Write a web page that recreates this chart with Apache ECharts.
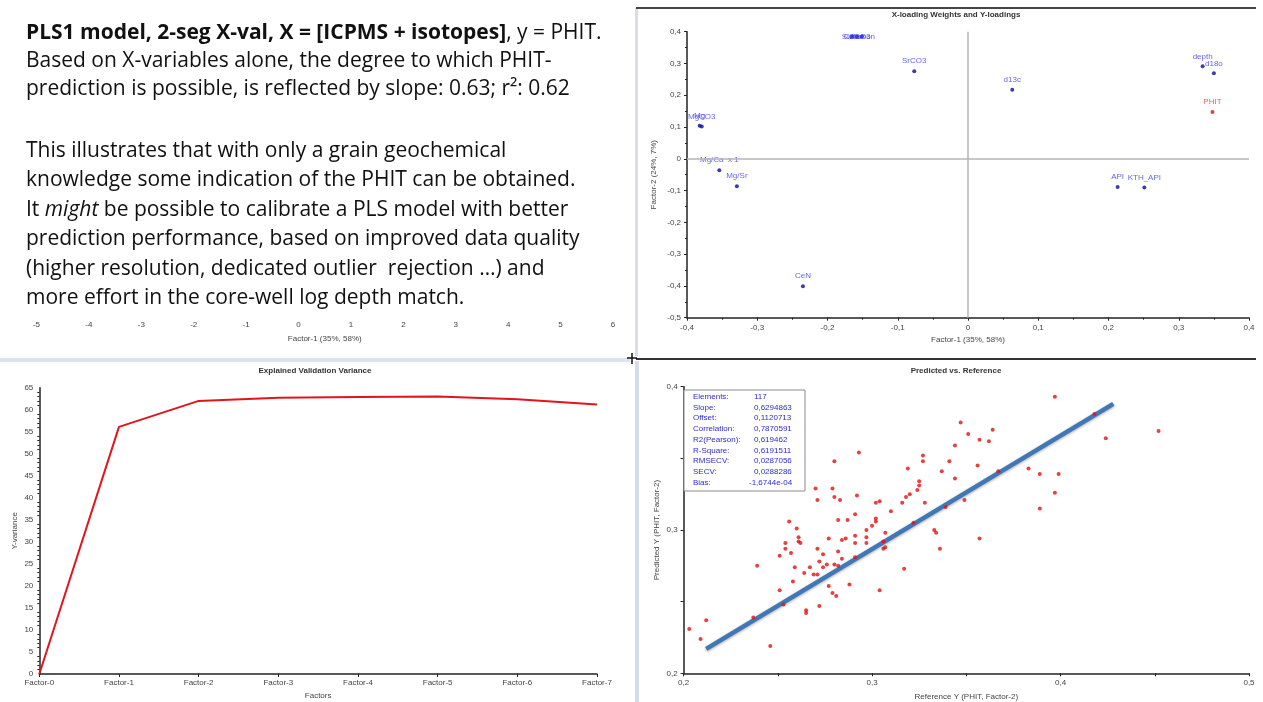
<!DOCTYPE html>
<html>
<head>
<meta charset="utf-8">
<script src="https://cdn.jsdelivr.net/npm/echarts/dist/echarts.min.js"></script>
<style>
html, body { margin: 0; padding: 0; background: #fff; }
#main { width: 1263px; height: 702px; }
</style>
</head>
<body>
<div id="main"></div>
<script>
// X-loading weights / Y-loadings
var loadNames = ["Mg", "MgCO3", "Mg/Ca  x 1", "Mg/Sr", "CeN", "Sulfur", "CaCO3", "Carbon", "SrCO3", "d13c", "depth", "d18o", "API", "KTH_API"];
var loadX = [-0.382, -0.379, -0.354, -0.329, -0.235, -0.165, -0.158, -0.151, -0.0765, 0.063, 0.334, 0.350, 0.213, 0.251];
var loadY = [0.104, 0.102, -0.036, -0.086, -0.401, 0.385, 0.385, 0.385, 0.2755, 0.217, 0.291, 0.269, -0.089, -0.090];
var yLoadNames = ["PHIT"];
var yLoadX = [0.348];
var yLoadY = [0.147];

// explained validation variance
var factors = ["Factor-0", "Factor-1", "Factor-2", "Factor-3", "Factor-4", "Factor-5", "Factor-6", "Factor-7"];
var yVariance = [0, 56.1, 62.0, 62.7, 62.9, 63.0, 62.4, 61.2];

// predicted vs reference
var refY = [0.397, 0.418, 0.347, 0.364, 0.351, 0.357, 0.362, 0.424, 0.452, 0.344,
  0.293, 0.327, 0.327, 0.280, 0.341, 0.356, 0.319, 0.337, 0.367, 0.383,
  0.389, 0.399, 0.344, 0.325, 0.325, 0.324, 0.320, 0.318, 0.316, 0.328,
  0.349, 0.339, 0.270, 0.279, 0.271, 0.280, 0.283, 0.292, 0.302, 0.304,
  0.291, 0.310, 0.302, 0.397, 0.389, 0.302, 0.300, 0.297, 0.297, 0.297,
  0.291, 0.291, 0.291, 0.287, 0.286, 0.284, 0.284, 0.288, 0.282, 0.282,
  0.280, 0.282, 0.281, 0.279, 0.277, 0.277, 0.276, 0.274, 0.274, 0.271,
  0.272, 0.271, 0.269, 0.267, 0.264, 0.259, 0.258, 0.261, 0.261, 0.262,
  0.260, 0.257, 0.256, 0.254, 0.254, 0.251, 0.251, 0.253, 0.246, 0.239,
  0.237, 0.265, 0.265, 0.272, 0.212, 0.203, 0.209, 0.304, 0.317, 0.333,
  0.334, 0.336, 0.322, 0.307, 0.306, 0.307, 0.306, 0.357];
var predY = [0.393, 0.381, 0.375, 0.370, 0.367, 0.363, 0.362, 0.364, 0.369, 0.359,
  0.354, 0.352, 0.348, 0.348, 0.348, 0.345, 0.343, 0.341, 0.341, 0.343,
  0.339, 0.339, 0.336, 0.334, 0.331, 0.328, 0.325, 0.323, 0.319, 0.319,
  0.321, 0.316, 0.329, 0.329, 0.321, 0.323, 0.321, 0.324, 0.319, 0.320,
  0.311, 0.313, 0.308, 0.326, 0.315, 0.306, 0.303, 0.300, 0.295, 0.291,
  0.296, 0.291, 0.281, 0.307, 0.294, 0.293, 0.280, 0.262, 0.307, 0.285,
  0.276, 0.275, 0.254, 0.256, 0.294, 0.261, 0.276, 0.274, 0.283, 0.287,
  0.278, 0.269, 0.269, 0.274, 0.270, 0.274, 0.264, 0.295, 0.292, 0.291,
  0.301, 0.284, 0.306, 0.291, 0.287, 0.282, 0.258, 0.248, 0.219, 0.275,
  0.239, 0.244, 0.242, 0.247, 0.237, 0.231, 0.224, 0.258, 0.273, 0.300,
  0.298, 0.287, 0.305, 0.298, 0.292, 0.288, 0.287, 0.294];
var fitX = [0.212, 0.428];
var fitY = [0.217, 0.388];

var statLabels = ["Elements:", "Slope:", "Offset:", "Correlation:", "R2(Pearson):", "R-Square:", "RMSECV:", "SECV:", "Bias:"];
var statValues = ["117", "0,6294863", "0,1120713", "0,7870591", "0,619462", "0,6191511", "0,0287056", "0,0288286", "-1,6744e-04"];

// leftover axis under the text box
var oldAxisTicks = [-5, 6];

var chart = echarts.init(document.getElementById("main"));

var FONT = "Liberation Sans";
var TEXTFONT = "Open Sans";
var TEXTSIZE = 21;

function comma(v) {
  if (Math.abs(v) < 1e-9) return "0";
  return v.toFixed(1).replace(".", ",");
}

var axisLine = { show: true, onZero: false, lineStyle: { color: "#222", width: 1.5 } };
var axisLabel = { color: "#444", fontSize: 8, fontFamily: FONT };
var nameStyle = { color: "#444", fontSize: 8, fontFamily: FONT };

// loadings scatter data
var loadData = loadNames.map(function (n, i) {
  var item = { name: n, value: [loadX[i], loadY[i]] };
  if (loadY[i] > 0.38) item.label = { position: "inside", offset: [0, 0] };
  return item;
});
var yLoadData = yLoadNames.map(function (n, i) {
  return { name: n, value: [yLoadX[i], yLoadY[i]] };
});
var predData = refY.map(function (r, i) { return [r, predY[i]]; });
var fitData = fitX.map(function (x, i) { return [x, fitY[i]]; });

// text block
var textLines = [
  { y: 33, t: "{b|PLS1 model, 2-seg X-val, X = [ICPMS + isotopes]}, y = PHIT." },
  { y: 61, t: "Based on X-variables alone, the degree to which PHIT-" },
  { y: 89, t: "prediction is possible, is reflected by slope: 0.63; r\u00b2: 0.62" },
  { y: 151, t: "This illustrates that with only a grain geochemical" },
  { y: 180, t: "knowledge some indication of the PHIT can be obtained." },
  { y: 210, t: "It {i|might} be possible to calibrate a PLS model with better" },
  { y: 239, t: "prediction performance, based on improved data quality" },
  { y: 269, t: "(higher resolution, dedicated outlier  rejection \u2026) and" },
  { y: 298, t: "more effort in the core-well log depth match." }
];
var graphics = textLines.map(function (l) {
  return {
    type: "text", x: 26, y: l.y,
    style: {
      text: l.t, fill: "#111", font: TEXTSIZE + "px " + TEXTFONT, textVerticalAlign: "middle",
      rich: {
        b: { fontWeight: "bold", fontSize: TEXTSIZE, fontFamily: TEXTFONT, fill: "#111" },
        i: { fontStyle: "italic", fontSize: TEXTSIZE, fontFamily: TEXTFONT, fill: "#111" }
      }
    }
  };
});

// panel frames
graphics.push(
  { type: "rect", shape: { x: 0, y: 358, width: 630, height: 4 }, style: { fill: "#dbe4ef" } },
  { type: "rect", shape: { x: 635, y: 8, width: 3, height: 348 }, style: { fill: "#d5dde8" } },
  { type: "rect", shape: { x: 635, y: 361, width: 4, height: 341 }, style: { fill: "#d5dde8" } },
  { type: "line", shape: { x1: 636, y1: 8, x2: 1256, y2: 8 }, style: { stroke: "#444", lineWidth: 2 } },
  { type: "line", shape: { x1: 636, y1: 359, x2: 1256, y2: 359 }, style: { stroke: "#333", lineWidth: 2 } },
  { type: "line", shape: { x1: 627, y1: 358, x2: 637, y2: 358 }, style: { stroke: "#111", lineWidth: 1.5 } },
  { type: "line", shape: { x1: 632, y1: 353, x2: 632, y2: 364 }, style: { stroke: "#111", lineWidth: 1.5 } }
);

// chart titles
[["X-loading Weights and Y-loadings", 956, 15], ["Explained Validation Variance", 315, 371], ["Predicted vs. Reference", 956, 371]].forEach(function (t) {
  graphics.push({
    type: "text", x: t[1], y: t[2],
    style: { text: t[0], fill: "#333", font: "bold 8px " + FONT, textAlign: "center", textVerticalAlign: "middle" }
  });
});

// stats box
graphics.push({ type: "rect", shape: { x: 684, y: 390, width: 121, height: 101 }, style: { fill: "#fff", stroke: "#8a8a8a", lineWidth: 1 }, z: 10 });
statLabels.forEach(function (s, i) {
  var y = 396.7 + i * 10.75;
  graphics.push({ type: "text", x: 693, y: y, z: 11, style: { text: s, fill: "#2b2bd0", font: "8px " + FONT, textVerticalAlign: "middle" } });
  graphics.push({ type: "text", x: i === 8 ? 749 : 754, y: y, z: 11, style: { text: statValues[i], fill: "#2b2bd0", font: "8px " + FONT, textVerticalAlign: "middle" } });
});

var option = {
  backgroundColor: "#fff",
  animation: false,
  graphic: graphics,
  grid: [
    { left: 687, right: 14, top: 31.7, height: 286 },
    { left: 39.3, width: 557.7, top: 387.7, height: 286.3 },
    { left: 683.6, width: 565.4, top: 386.7, height: 286.6 },
    { left: 36.5, width: 576.5, top: 312, height: 1 }
  ],
  xAxis: [
    {
      gridIndex: 0, type: "value", min: -0.4, max: 0.4, interval: 0.1,
      name: "Factor-1 (35%, 58%)", nameLocation: "middle", nameGap: 18, nameTextStyle: nameStyle,
      axisLine: axisLine, axisTick: { length: 3, lineStyle: { color: "#222" } },
      minorTick: { show: true, splitNumber: 2, length: 2, lineStyle: { color: "#222" } },
      splitLine: { show: false }, axisLabel: Object.assign({ formatter: comma, margin: 6 }, axisLabel)
    },
    {
      gridIndex: 1, type: "category", data: factors, boundaryGap: false,
      name: "Factors", nameLocation: "middle", nameGap: 18, nameTextStyle: nameStyle,
      axisLine: axisLine, axisTick: { length: 3, lineStyle: { color: "#222" } },
      splitLine: { show: false }, axisLabel: Object.assign({ margin: 5 }, axisLabel)
    },
    {
      gridIndex: 2, type: "value", min: 0.2, max: 0.5, interval: 0.1,
      name: "Reference Y (PHIT, Factor-2)", nameLocation: "middle", nameGap: 19, nameTextStyle: nameStyle,
      axisLine: axisLine, axisTick: { length: 3, lineStyle: { color: "#222" } },
      minorTick: { show: true, splitNumber: 2, length: 3, lineStyle: { color: "#222" } },
      splitLine: { show: false }, axisLabel: Object.assign({ formatter: comma, margin: 5 }, axisLabel)
    },
    {
      gridIndex: 3, type: "value", min: oldAxisTicks[0], max: oldAxisTicks[1], interval: 1,
      name: "Factor-1 (35%, 58%)", nameLocation: "middle", nameGap: 22, nameTextStyle: nameStyle,
      axisLine: { show: false }, axisTick: { show: false }, splitLine: { show: false },
      axisLabel: Object.assign({ margin: 8 }, axisLabel)
    }
  ],
  yAxis: [
    {
      gridIndex: 0, type: "value", min: -0.5, max: 0.4, interval: 0.1,
      name: "Factor-2 (24%, 7%)", nameLocation: "middle", nameGap: 29, nameTextStyle: nameStyle,
      axisLine: axisLine, axisTick: { length: 3, lineStyle: { color: "#222" } },
      minorTick: { show: true, splitNumber: 2, length: 2, lineStyle: { color: "#222" } },
      splitLine: { show: false }, axisLabel: Object.assign({ formatter: comma, margin: 6 }, axisLabel)
    },
    {
      gridIndex: 1, type: "value", min: 0, max: 65, interval: 5,
      name: "Y-variance", nameLocation: "middle", nameGap: 21, nameTextStyle: nameStyle,
      axisLine: axisLine, axisTick: { length: 3, lineStyle: { color: "#222" } },
      minorTick: { show: true, splitNumber: 5, length: 2, lineStyle: { color: "#222" } },
      splitLine: { show: false }, axisLabel: Object.assign({ margin: 6 }, axisLabel)
    },
    {
      gridIndex: 2, type: "value", min: 0.2, max: 0.4, interval: 0.1,
      name: "Predicted Y (PHIT, Factor-2)", nameLocation: "middle", nameGap: 23, nameTextStyle: nameStyle,
      axisLine: axisLine, axisTick: { length: 3, lineStyle: { color: "#222" } },
      minorTick: { show: true, splitNumber: 2, length: 3, lineStyle: { color: "#222" } },
      splitLine: { show: false }, axisLabel: Object.assign({ formatter: comma, margin: 6 }, axisLabel)
    },
    { gridIndex: 3, type: "value", show: false }
  ],
  series: [
    {
      name: "X-loadings", type: "scatter", xAxisIndex: 0, yAxisIndex: 0,
      data: loadData, symbolSize: 4, itemStyle: { color: "#0a0a9a" },
      label: { show: true, position: "top", distance: 4, formatter: "{b}", color: "#3b3bf0", fontSize: 8, fontFamily: FONT },
      markLine: {
        silent: true, symbol: "none", label: { show: false },
        lineStyle: { color: "#b5b5b5", width: 1.5, type: "solid" },
        data: [{ xAxis: 0 }, { yAxis: 0 }]
      }
    },
    {
      name: "Y-loadings", type: "scatter", xAxisIndex: 0, yAxisIndex: 0,
      data: yLoadData, symbolSize: 4, itemStyle: { color: "#d01010" },
      label: { show: true, position: "top", distance: 4, formatter: "{b}", color: "#f03030", fontSize: 8, fontFamily: FONT }
    },
    {
      name: "Y-variance", type: "line", xAxisIndex: 1, yAxisIndex: 1,
      data: yVariance, symbol: "none", lineStyle: { color: "#e3141c", width: 2 }
    },
    {
      name: "Fit", type: "line", xAxisIndex: 2, yAxisIndex: 2,
      data: fitData, symbol: "none", z: 3,
      lineStyle: { color: "#4077b5", width: 4.5, shadowColor: "rgba(0,0,0,0.35)", shadowBlur: 3, shadowOffsetY: 1 }
    },
    {
      name: "Samples", type: "scatter", xAxisIndex: 2, yAxisIndex: 2,
      data: predData, symbolSize: 4, z: 4, itemStyle: { color: "#e01010" }
    }
  ]
};
chart.setOption(option);
</script>
</body>
</html>
